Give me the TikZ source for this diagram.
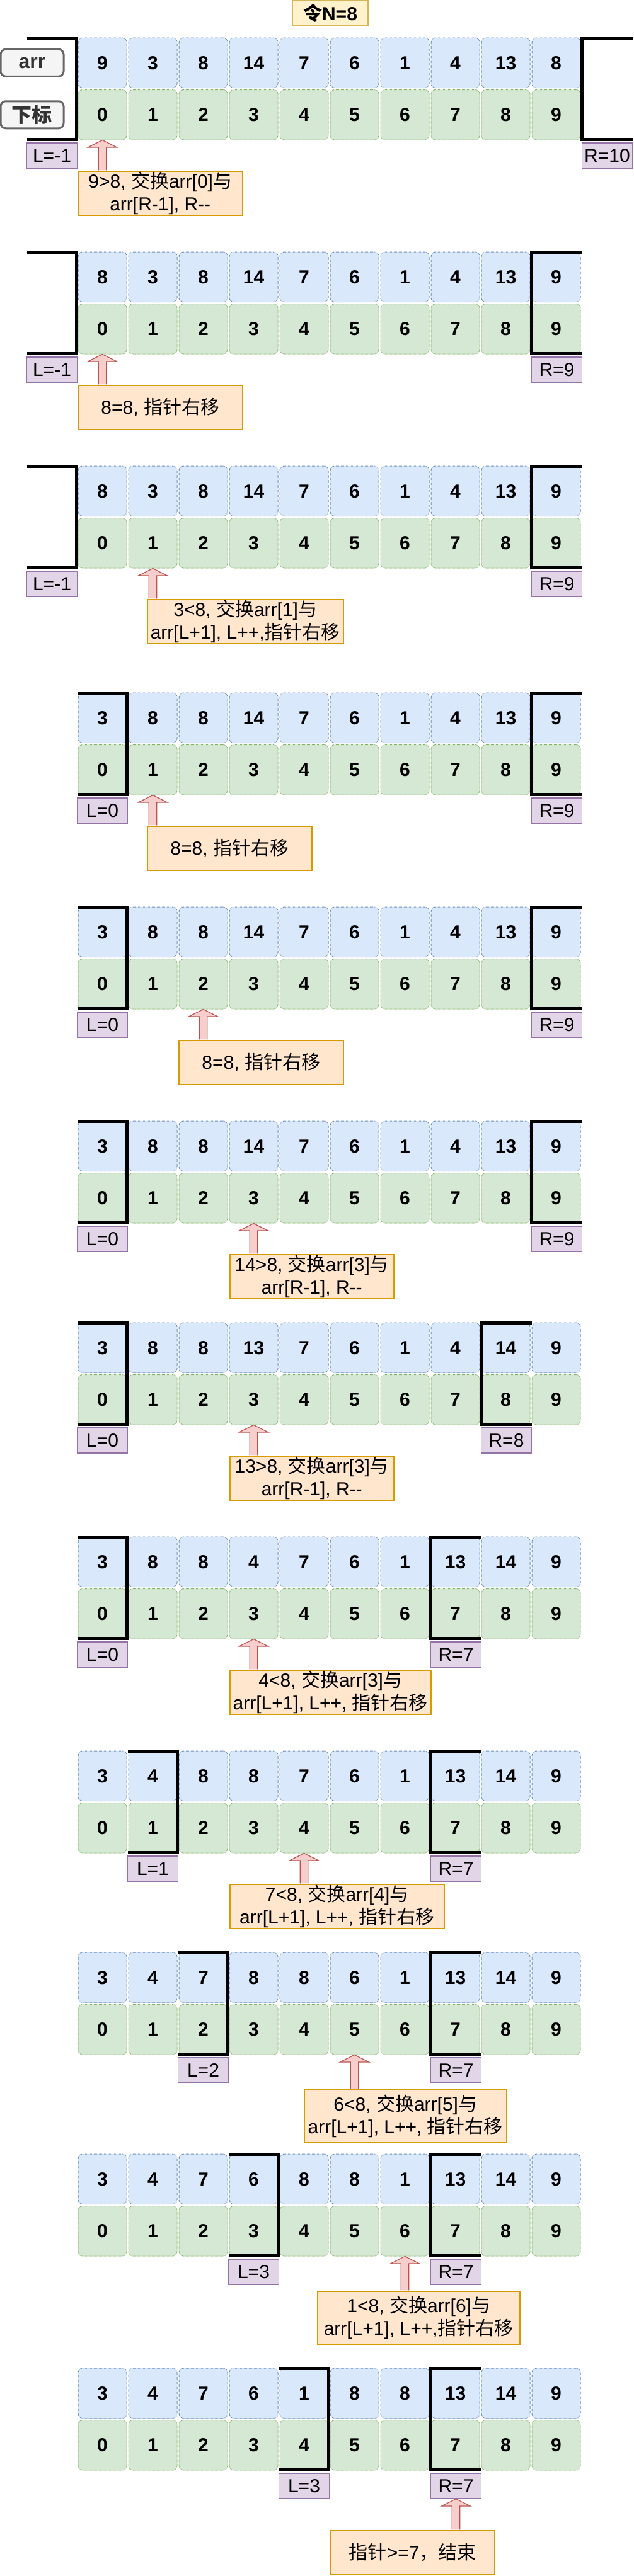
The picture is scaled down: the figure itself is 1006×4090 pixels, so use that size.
\documentclass[tikz,border=0pt]{standalone}
\usepackage{fontspec}
\setmainfont{Liberation Sans}
\newfontfamily\zhfont{Noto Sans CJK SC}
\newcommand{\zh}[1]{{\zhfont #1}}
\usetikzlibrary{positioning,calc}

\definecolor{cellblue}{HTML}{DAE8FC}
\definecolor{cellblueline}{HTML}{6C8EBF}
\definecolor{cellgreen}{HTML}{D5E8D4}
\definecolor{cellgreenline}{HTML}{82B366}
\definecolor{notefill}{HTML}{FFE6CC}
\definecolor{noteline}{HTML}{D79B00}
\definecolor{ptrfill}{HTML}{E1D5E7}
\definecolor{ptrline}{HTML}{9673A6}
\definecolor{arrowfill}{HTML}{F8CECC}
\definecolor{arrowline}{HTML}{B85450}
\definecolor{titlefill}{HTML}{FFF2CC}
\definecolor{titleline}{HTML}{D6B656}
\definecolor{tagfill}{HTML}{F5F5F5}
\definecolor{tagline}{HTML}{666666}
\definecolor{tagtext}{HTML}{333333}

% 一行数组: #1 编号, #2 顶部, #3 数值, #4 L 位置, #5 L 文字, #6 R 位置, #7 R 文字
\newcommand{\arrstate}[7]{%
  \foreach \v [count=\i from 0] in {#3} {
    \node[valcell] (v#1-\i) at ({162.5+80*\i},{-#2-39.75}) {\v};
    \node[idxcell, below=2pt of v#1-\i] (x#1-\i) {\i};
  }
  \draw[bracket] ({123+80*(#4)},{-#2}) -| ({201.5+80*(#4)},{-#2-161}) -- ++(-78.5,0);
  \draw[bracket] ({204+80*(#6)},{-#2}) -| ({123.5+80*(#6)},{-#2-161}) -- ++(80.5,0);
  \node[ptrbox, anchor=north] (lp#1) at ({162.5+80*(#4)},{-#2-166}) {#5};
  \node[ptrbox, anchor=north] (rp#1) at ({163.5+80*(#6)},{-#2-166}) {#7};
}

% 空心箭头: #1 箭头尖, #2 尾部所在的框
\newcommand{\pointerarrow}[2]{%
  \draw[pointer] let \p1=(#1), \p2=([yshift=0.75pt]#2) in
    (\x1+6.3pt,\y2) -- (\x1+6.3pt,\y1-11.5pt) -- (\x1+23pt,\y1-11.5pt) -- (\x1,\y1)
    -- (\x1-23pt,\y1-11.5pt) -- (\x1-6.3pt,\y1-11.5pt) -- (\x1-6.3pt,\y2);
}

\begin{document}
\begin{tikzpicture}[
    x=1pt, y=1pt,
    valcell/.style={
        rectangle, rounded corners=7pt, draw=cellblueline, fill=cellblue,
        line width=1pt, dash pattern=on 1pt off 1pt,
        minimum width=77pt, minimum height=79.5pt, inner sep=0pt,
        font=\fontsize{30}{36}\selectfont\bfseries
    },
    idxcell/.style={valcell, draw=cellgreenline, fill=cellgreen},
    bracket/.style={line width=5pt, line join=miter},
    ptrbox/.style={
        rectangle, draw=ptrline, fill=ptrfill, line width=1.5pt,
        minimum width=80pt, minimum height=40pt, inner sep=0pt,
        font=\fontsize{30}{36}\selectfont
    },
    stepnote/.style={
        rectangle, draw=noteline, fill=notefill, line width=1.5pt,
        minimum height=70pt, inner sep=0pt, align=center, anchor=north west,
        font=\fontsize{30}{36}\selectfont
    },
    pointer/.style={draw=arrowline, fill=arrowfill, line width=1.2pt, line join=miter},
    tagbox/.style={
        rectangle, rounded corners=8pt, draw=tagline, fill=tagfill, line width=3pt,
        text=tagtext, minimum width=100pt, minimum height=43pt, inner sep=0pt,
        font=\fontsize{32}{38}\selectfont\bfseries
    },
    titlebox/.style={
        rectangle, draw=titleline, fill=titlefill, line width=1.5pt,
        minimum width=120pt, minimum height=40pt, inner sep=0pt,
        font=\fontsize{30}{36}\selectfont\bfseries
    }
]
\useasboundingbox (0,0) rectangle (1006,-4090);

% 标题
\node[titlebox] (title) at (524,-21) {\zh{令}N=8};

% 数组状态
\arrstate{1}{60}{9,3,8,14,7,6,1,4,13,8}{-1}{L=-1}{10}{R=10}
\arrstate{2}{400}{8,3,8,14,7,6,1,4,13,9}{-1}{L=-1}{9}{R=9}
\arrstate{3}{740}{8,3,8,14,7,6,1,4,13,9}{-1}{L=-1}{9}{R=9}
\arrstate{4}{1100}{3,8,8,14,7,6,1,4,13,9}{0}{L=0}{9}{R=9}
\arrstate{5}{1440}{3,8,8,14,7,6,1,4,13,9}{0}{L=0}{9}{R=9}
\arrstate{6}{1780}{3,8,8,14,7,6,1,4,13,9}{0}{L=0}{9}{R=9}
\arrstate{7}{2100}{3,8,8,13,7,6,1,4,14,9}{0}{L=0}{8}{R=8}
\arrstate{8}{2440}{3,8,8,4,7,6,1,13,14,9}{0}{L=0}{7}{R=7}
\arrstate{9}{2780}{3,4,8,8,7,6,1,13,14,9}{1}{L=1}{7}{R=7}
\arrstate{10}{3100}{3,4,7,8,8,6,1,13,14,9}{2}{L=2}{7}{R=7}
\arrstate{11}{3420}{3,4,7,6,8,8,1,13,14,9}{3}{L=3}{7}{R=7}
\arrstate{12}{3760}{3,4,7,6,1,8,8,13,14,9}{4}{L=3}{7}{R=7}

\node[tagbox, left=21pt of v1-0] (arrtag) {arr};
\node[tagbox, left=21pt of x1-0] (idxtag) {\zh{下标}};

% 说明
\node[stepnote, minimum width=261pt] (n1) at (123,-271) {9>8, \zh{交换}arr[0]\zh{与}\\arr[R-1], R-{}-};
\node[stepnote, minimum width=261pt] (n2) at (123,-611) {8=8, \zh{指针右移}};
\node[stepnote, minimum width=311pt] (n3) at (233,-951) {3<8, \zh{交换}arr[1]\zh{与}\\arr[L+1], L++,\zh{指针右移}};
\node[stepnote, minimum width=261pt] (n4) at (233,-1311) {8=8, \zh{指针右移}};
\node[stepnote, minimum width=261pt] (n5) at (283,-1651) {8=8, \zh{指针右移}};
\node[stepnote, minimum width=260pt] (n6) at (364,-1991) {14>8, \zh{交换}arr[3]\zh{与}\\arr[R-1], R-{}-};
\node[stepnote, minimum width=260pt] (n7) at (364,-2311) {13>8, \zh{交换}arr[3]\zh{与}\\arr[R-1], R-{}-};
\node[stepnote, minimum width=319pt] (n8) at (364,-2651) {4<8, \zh{交换}arr[3]\zh{与}\\arr[L+1], L++, \zh{指针右移}};
\node[stepnote, minimum width=340pt] (n9) at (364,-2991) {7<8, \zh{交换}arr[4]\zh{与}\\arr[L+1], L++, \zh{指针右移}};
\node[stepnote, minimum width=321pt, minimum height=84pt] (n10) at (482,-3317) {6<8, \zh{交换}arr[5]\zh{与}\\arr[L+1], L++, \zh{指针右移}};
\node[stepnote, minimum width=321pt, minimum height=84pt] (n11) at (503,-3637) {1<8, \zh{交换}arr[6]\zh{与}\\arr[L+1], L++,\zh{指针右移}};
\node[stepnote, minimum width=260pt] (n12) at (524,-4017) {\zh{指针}>=7\zh{，结束}};

% 指针
\pointerarrow{x1-0.south}{n1.north}
\pointerarrow{x2-0.south}{n2.north}
\pointerarrow{x3-1.south}{n3.north}
\pointerarrow{x4-1.south}{n4.north}
\pointerarrow{x5-2.south}{n5.north}
\pointerarrow{x6-3.south}{n6.north}
\pointerarrow{x7-3.south}{n7.north}
\pointerarrow{x8-3.south}{n8.north}
\pointerarrow{x9-4.south}{n9.north}
\pointerarrow{x10-5.south}{n10.north}
\pointerarrow{x11-6.south}{n11.north}
\pointerarrow{rp12.south}{n12.north}

\end{tikzpicture}
\end{document}
